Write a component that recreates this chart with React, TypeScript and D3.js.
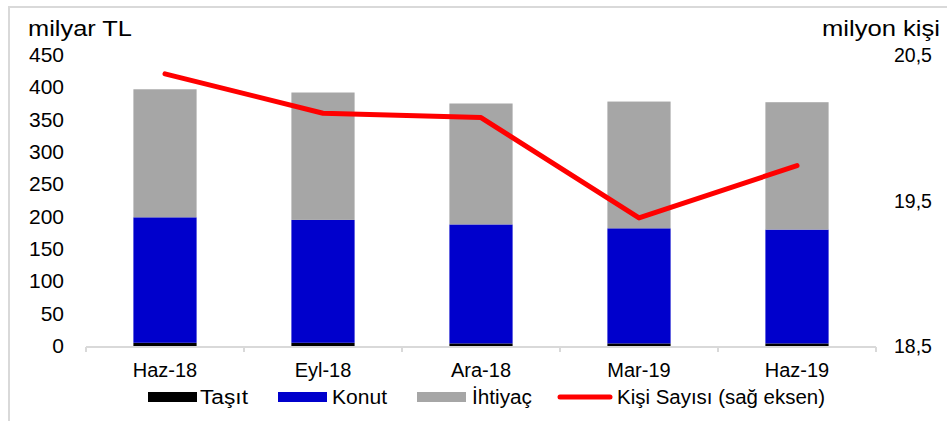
import * as d3 from 'd3';

const width = 947;
const height = 421;
const margin = { top: 55, left: 86, bottom: 75, right: 71 };

// values
const categories = ['Haz-18', 'Eyl-18', 'Ara-18', 'Mar-19', 'Haz-19'];
const tasit = [5, 5, 4, 4, 4];
const konut = [194, 190, 184, 178, 176];
const ihtiyac = [198, 197, 187, 196, 197];
const kisiSayisi = [20.37, 20.1, 20.07, 19.38, 19.74];

const leftTicks = [0, 50, 100, 150, 200, 250, 300, 350, 400, 450];
const rightTicks = [18.5, 19.5, 20.5];

const keys = ['tasit', 'konut', 'ihtiyac'] as const;
const colors: Record<string, string> = {
  tasit: '#000000',
  konut: '#0000CC',
  ihtiyac: '#A6A6A6',
};

const rows = categories.map((c, i) => ({
  cat: c,
  tasit: tasit[i],
  konut: konut[i],
  ihtiyac: ihtiyac[i],
}));

const font = '"Liberation Sans", Arial, sans-serif';

function App() {
  const x = d3
    .scaleBand()
    .domain(categories)
    .range([margin.left, width - margin.right])
    .paddingInner(0.6)
    .paddingOuter(0.3);

  const y = d3
    .scaleLinear()
    .domain([0, 450])
    .range([height - margin.bottom, margin.top]);

  const yR = d3
    .scaleLinear()
    .domain([18.5, 20.5])
    .range([height - margin.bottom, margin.top]);

  const series = d3.stack<(typeof rows)[number]>().keys(keys as unknown as string[])(rows);

  const line = d3
    .line<number>()
    .x((_, i) => (x(categories[i]) || 0) + x.bandwidth() / 2)
    .y((d) => yR(d));

  const x0 = margin.left;
  const x1 = width - margin.right;
  const base = y(0);
  const boundaries = d3.range(categories.length + 1).map((i) => x0 + i * x.step());

  const legend = [
    { label: 'Taşıt', type: 'rect', color: colors.tasit, sx: 148, tx: 200, len: 48 },
    { label: 'Konut', type: 'rect', color: colors.konut, sx: 278, tx: 332, len: 55 },
    { label: 'İhtiyaç', type: 'rect', color: colors.ihtiyac, sx: 417, tx: 472, len: 60 },
    { label: 'Kişi Sayısı (sağ eksen)', type: 'line', color: '#FF0000', sx: 558, tx: 617, len: 208 },
  ];

  return (
    <svg
      width={width}
      height={height}
      style={{ position: 'absolute', left: 0, top: 0, background: '#fff' }}
      fontFamily={font}
    >
      <rect x={9} y={7} width={width + 20} height={height + 20} fill="#fff" stroke="#D9D9D9" strokeWidth={2} />

      <text x={28} y={36} fontSize={22} textLength={104} lengthAdjust="spacingAndGlyphs" fill="#000">
        milyar TL
      </text>
      <text x={822} y={36} fontSize={22} textLength={118} lengthAdjust="spacingAndGlyphs" fill="#000">
        milyon kişi
      </text>

      {leftTicks.map((t) => (
        <text key={t} x={64} y={y(t) + 7} fontSize={21} textAnchor="end" fill="#000">
          {t}
        </text>
      ))}
      {rightTicks.map((t) => (
        <text key={t} x={894} y={yR(t) + 7} fontSize={19.5} fill="#000">
          {String(t).replace('.', ',')}
        </text>
      ))}

      {series.map((s) => (
        <g key={s.key} fill={colors[s.key]}>
          {s.map((d, i) => (
            <rect
              key={i}
              x={x(categories[i])}
              y={y(d[1])}
              width={x.bandwidth()}
              height={y(d[0]) - y(d[1])}
            />
          ))}
        </g>
      ))}

      <g stroke="#D9D9D9" strokeWidth={2} fill="none">
        <line x1={x0} x2={x1} y1={base + 1} y2={base + 1} />
        {boundaries.map((b, i) => (
          <line key={i} x1={b} x2={b} y1={base + 1} y2={base + 6} />
        ))}
      </g>

      {categories.map((c) => (
        <text
          key={c}
          x={(x(c) || 0) + x.bandwidth() / 2}
          y={377}
          fontSize={20}
          textAnchor="middle"
          fill="#000"
        >
          {c}
        </text>
      ))}

      <path
        d={line(kisiSayisi) || ''}
        fill="none"
        stroke="#FF0000"
        strokeWidth={5}
        strokeLinecap="round"
        strokeLinejoin="round"
      />

      {legend.map((l) => (
        <g key={l.label}>
          {l.type === 'rect' ? (
            <rect x={l.sx} y={392} width={49} height={10} fill={l.color} />
          ) : (
            <line x1={l.sx + 2} x2={l.sx + 52} y1={397} y2={397} stroke={l.color} strokeWidth={5} strokeLinecap="round" />
          )}
          <text x={l.tx} y={404} fontSize={19.5} textLength={l.len} lengthAdjust="spacingAndGlyphs" fill="#000">
            {l.label}
          </text>
        </g>
      ))}
    </svg>
  );
}

export default App;
